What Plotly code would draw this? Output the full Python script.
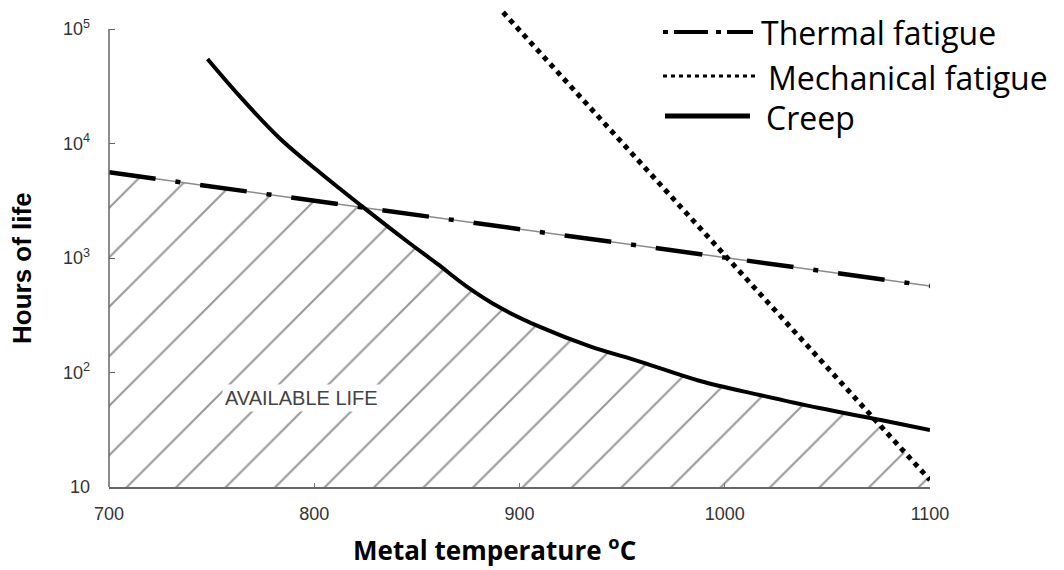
import numpy as np
import plotly.graph_objects as go

# Axes
X_TICKS = [700, 800, 900, 1000, 1100]
Y_TICKS = [10, 100, 1000, 10000, 100000]
Y_TICK_TEXT = ["10", "10<sup>2</sup>", "10<sup>3</sup>", "10<sup>4</sup>", "10<sup>5</sup>"]
Y_RANGE_LOG = [1.0, 5.166]

# Thermal fatigue limit (hours vs metal temperature, deg C)
thermal_temp = [700, 1100]
thermal_hours = [5600, 570]

# Mechanical fatigue limit
mech_temp = [892, 1000, 1100]
mech_hours = [140000, 1050, 11.5]

# Creep limit
creep_temp = [748, 764, 783, 803, 823, 845, 860, 874, 890, 910, 934, 959, 988, 1017, 1046, 1076, 1100]
creep_hours = [54700, 25500, 11170, 5520, 2850, 1407, 887, 569, 373, 250, 170, 124, 84.3, 63.6,
               48.9, 38.5, 31.5]

LEGEND_NAMES = ["Thermal fatigue", "Mechanical fatigue", "Creep"]
REGION_LABEL = "AVAILABLE LIFE"

# plot-area geometry (pixels) used to place the hand-made legend and titles
PLOT_L, PLOT_R, PLOT_T, PLOT_B = 109, 930, 10, 487


def px_x(p):
    return (p - PLOT_L) / (PLOT_R - PLOT_L)


def px_y(p):
    return (PLOT_B - p) / (PLOT_B - PLOT_T)


def val_y(v):
    return (np.log10(v) - Y_RANGE_LOG[0]) / (Y_RANGE_LOG[1] - Y_RANGE_LOG[0])


y_ceiling = 10 ** (Y_RANGE_LOG[1] + 0.5)
y_floor = Y_TICKS[0]

fig = go.Figure()

# hatched background over the whole temperature span
fig.add_trace(go.Scatter(
    x=[X_TICKS[0], X_TICKS[-1], X_TICKS[-1], X_TICKS[0], X_TICKS[0]],
    y=[y_floor, y_floor, y_ceiling, y_ceiling, y_floor],
    mode="lines", line=dict(width=0), fill="toself", fillcolor="white",
    fillpattern=dict(shape="/", size=35, solidity=0.06, fgcolor="#333333", bgcolor="white"),
    hoverinfo="skip", showlegend=False,
))

# white cover above each limit curve, leaving the hatch only under the lowest one
for xs, ys, shape in [(thermal_temp, thermal_hours, "linear"),
                      (mech_temp, mech_hours, "linear"),
                      (creep_temp, creep_hours, "spline")]:
    fig.add_trace(go.Scatter(x=xs, y=[y_ceiling] * len(xs), mode="lines",
                             line=dict(width=0, shape=shape), hoverinfo="skip", showlegend=False))
    fig.add_trace(go.Scatter(x=xs, y=ys, mode="lines", line=dict(width=0, shape=shape),
                             fill="tonexty", fillcolor="white", hoverinfo="skip", showlegend=False))

# thermal fatigue: thin grey base with heavy dash-dot on top
fig.add_trace(go.Scatter(x=thermal_temp, y=thermal_hours, mode="lines",
                         line=dict(color="#8a8a8a", width=1.5), showlegend=False, hoverinfo="skip"))
fig.add_trace(go.Scatter(x=thermal_temp, y=thermal_hours, mode="lines", name=LEGEND_NAMES[0],
                         line=dict(color="black", width=4.5, dash="47px,20px,5px,20px"),
                         showlegend=False))
# mechanical fatigue: dotted
fig.add_trace(go.Scatter(x=mech_temp, y=mech_hours, mode="lines", name=LEGEND_NAMES[1],
                         line=dict(color="black", width=5, dash="5px,5px"), showlegend=False))
# creep: solid
fig.add_trace(go.Scatter(x=creep_temp, y=creep_hours, mode="lines", name=LEGEND_NAMES[2],
                         line=dict(color="black", width=4, shape="spline", smoothing=1.0),
                         showlegend=False))

tick_font = dict(family="Liberation Sans, Arial, sans-serif", size=18, color="#333333")

fig.update_xaxes(range=[X_TICKS[0], X_TICKS[-1]], tickvals=X_TICKS, showgrid=False, zeroline=False,
                 showline=True, linecolor="#666666", linewidth=1.5, ticks="inside", ticklen=4,
                 tickcolor="#777777", tickfont=tick_font, ticklabelstandoff=10)
fig.update_yaxes(type="log", range=Y_RANGE_LOG, tickvals=Y_TICKS, ticktext=Y_TICK_TEXT,
                 showgrid=False, zeroline=False, showline=False, ticks="inside", ticklen=6,
                 tickcolor="#666666", tickwidth=1.2, tickfont=tick_font, ticklabelstandoff=18)

shapes = [
    # y axis line from the lowest to the highest decade
    dict(type="line", xref="paper", yref="paper", x0=0, x1=0,
         y0=val_y(Y_TICKS[0]), y1=val_y(Y_TICKS[-1]), line=dict(color="#666666", width=1.5)),
    # legend samples
    dict(type="line", xref="paper", yref="paper", x0=px_x(663), x1=px_x(753), y0=px_y(32), y1=px_y(32),
         line=dict(color="black", width=4, dash="5px,6px,34px,8px")),
    dict(type="line", xref="paper", yref="paper", x0=px_x(663), x1=px_x(755), y0=px_y(76), y1=px_y(76),
         line=dict(color="black", width=3, dash="4px,4px")),
    dict(type="line", xref="paper", yref="paper", x0=px_x(665), x1=px_x(750), y0=px_y(116), y1=px_y(116),
         line=dict(color="black", width=5)),
]

legend_font = dict(family="Open Sans, Noto Sans, sans-serif", size=32, color="black")
annotations = [
    dict(text=LEGEND_NAMES[0], xref="paper", yref="paper", x=px_x(759), y=px_y(32),
         xanchor="left", yanchor="middle", showarrow=False, font=legend_font),
    dict(text=LEGEND_NAMES[1], xref="paper", yref="paper", x=px_x(766), y=px_y(77),
         xanchor="left", yanchor="middle", showarrow=False, font=legend_font),
    dict(text=LEGEND_NAMES[2], xref="paper", yref="paper", x=px_x(764), y=px_y(117),
         xanchor="left", yanchor="middle", showarrow=False, font=legend_font),
    dict(text=REGION_LABEL, xref="x", yref="y", x=794, y=np.log10(60), showarrow=False,
         font=dict(family="Liberation Sans, Arial, sans-serif", size=20, color="#444444"),
         bgcolor="white", borderpad=2),
    dict(text="<b>Metal temperature <sup>o</sup>C</b>", xref="paper", yref="paper",
         x=px_x(494), y=px_y(549), xanchor="center", yanchor="middle", showarrow=False,
         font=dict(family="Open Sans, Noto Sans, sans-serif", size=26, color="black")),
    dict(text="<b>Hours of life</b>", xref="paper", yref="paper", x=px_x(22), y=px_y(268),
         xanchor="center", yanchor="middle", textangle=-90, showarrow=False,
         font=dict(family="Liberation Sans, Arial, sans-serif", size=26, color="black")),
]

fig.update_layout(width=1064, height=570, margin=dict(l=PLOT_L, r=1064 - PLOT_R, t=PLOT_T, b=570 - PLOT_B),
                  plot_bgcolor="white", paper_bgcolor="white", showlegend=False,
                  shapes=shapes, annotations=annotations)

fig.write_html("out.html")
